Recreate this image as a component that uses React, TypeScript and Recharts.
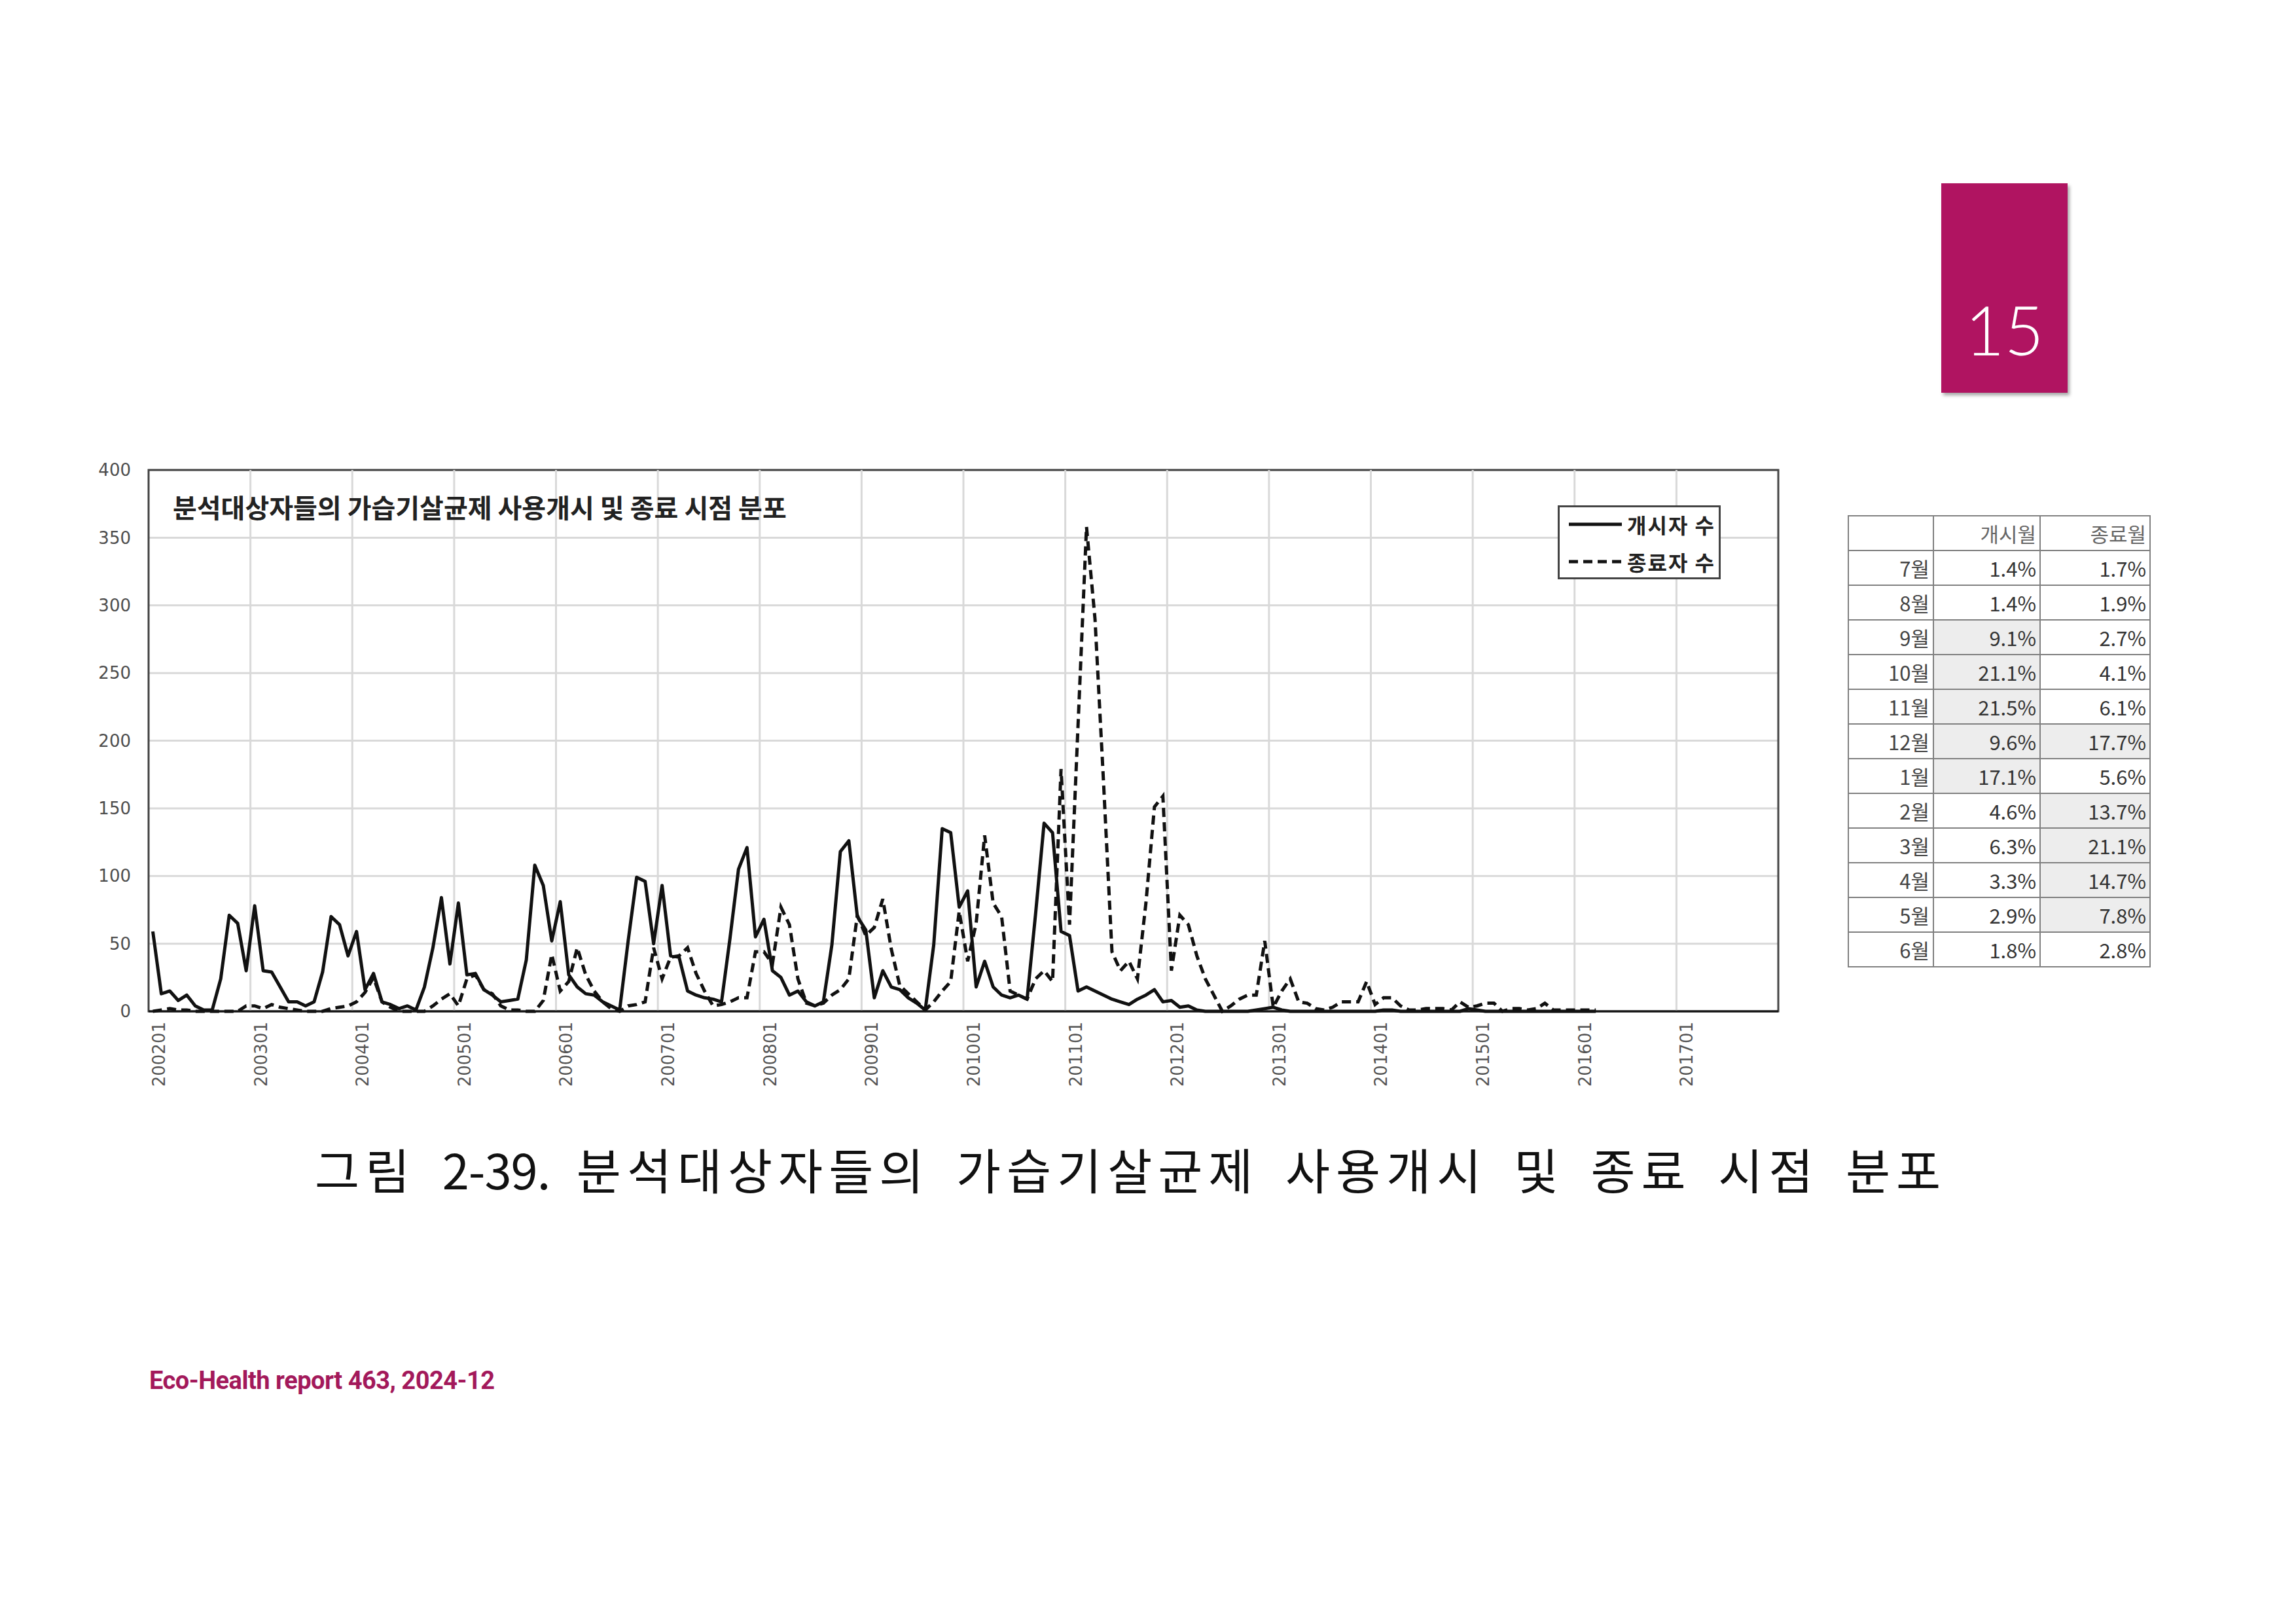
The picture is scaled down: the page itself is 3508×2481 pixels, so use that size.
import {
  LineChart,
  Line,
  XAxis,
  YAxis,
  CartesianGrid,
  ReferenceLine,
  ReferenceArea,
} from "recharts";

// monthly counts, 2002-01 .. 2016-03 (one row per year)
const startCounts = [
  59, 13, 15, 8, 12, 4, 1, 1, 24, 71, 65, 30,
  78, 30, 29, 18, 7, 7, 4, 7, 29, 70, 64, 41,
  59, 16, 28, 7, 5, 2, 4, 1, 18, 47, 84, 35,
  80, 27, 28, 16, 12, 7, 8, 9, 38, 108, 93, 52,
  81, 27, 18, 13, 12, 7, 4, 1, 52, 99, 96, 50,
  93, 41, 40, 15, 12, 10, 9, 7, 54, 105, 121, 55,
  68, 30, 25, 12, 15, 7, 4, 7, 49, 118, 126, 70,
  60, 10, 30, 18, 16, 10, 6, 1, 49, 135, 132, 77,
  89, 18, 37, 18, 12, 10, 12, 9, 72, 139, 132, 59,
  56, 15, 18, 15, 12, 9, 7, 5, 9, 12, 16, 7,
  8, 3, 4, 1, 0, 0, 0, 0, 0, 0, 1, 2,
  3, 1, 0, 0, 0, 0, 0, 0, 0, 0, 0, 0,
  0, 1, 1, 0, 0, 0, 0, 0, 0, 0, 0, 2,
  1, 0, 0, 0, 0, 0, 0, 0, 0, 0, 0, 0,
  0, 0, 0,
];

const endCounts = [
  0, 1, 2, 1, 1, 0, 0, 0, 0, 0, 0, 4,
  4, 2, 5, 3, 2, 1, 0, 0, 0, 2, 3, 4,
  7, 14, 25, 7, 3, 0, 0, 0, 0, 4, 9, 13,
  4, 24, 27, 16, 13, 4, 1, 1, 0, 0, 8, 42,
  15, 22, 47, 27, 15, 7, 2, 0, 4, 5, 7, 47,
  24, 40, 41, 47, 28, 15, 4, 5, 7, 10, 10, 44,
  44, 35, 77, 64, 24, 6, 4, 6, 12, 16, 24, 71,
  56, 62, 83, 46, 19, 13, 7, 1, 7, 15, 22, 74,
  37, 65, 130, 80, 70, 15, 12, 9, 24, 30, 22, 179,
  64, 211, 358, 290, 170, 44, 30, 37, 24, 80, 151, 159,
  30, 71, 64, 41, 24, 12, 0, 4, 9, 12, 12, 52,
  3, 15, 24, 7, 6, 2, 1, 3, 7, 7, 7, 22,
  5, 10, 10, 4, 1, 1, 2, 2, 2, 1, 7, 3,
  4, 6, 6, 0, 2, 2, 1, 2, 6, 1, 1, 1,
  1, 1, 1,
];

const yearLabels = [
  "200201", "200301", "200401", "200501", "200601", "200701", "200801", "200901",
  "201001", "201101", "201201", "201301", "201401", "201501", "201601", "201701",
];
const monthCount = 192; // 200201 .. 201712 on the axis
const yTicks = [0, 50, 100, 150, 200, 250, 300, 350, 400];
const seriesNames = ["개시자 수", "종료자 수"];
const chartTitle = "분석대상자들의 가습기살균제 사용개시 및 종료 시점 분포";
const figureNo = "2-39.";

const tableHeader = ["", "개시월", "종료월"];
const tableMonths = ["7월", "8월", "9월", "10월", "11월", "12월", "1월", "2월", "3월", "4월", "5월", "6월"];
const startShare = [1.4, 1.4, 9.1, 21.1, 21.5, 9.6, 17.1, 4.6, 6.3, 3.3, 2.9, 1.8];
const endShare = [1.7, 1.9, 2.7, 4.1, 6.1, 17.7, 5.6, 13.7, 21.1, 14.7, 7.8, 2.8];

const data = startCounts.map((v, i) => ({ m: i, start: v, end: endCounts[i] }));
const tickPos = yearLabels.map((_, k) => k * 12);
const DASH = "14 8";

function ShareTable() {
  const cell: React.CSSProperties = {
    border: "2px solid #808080",
    textAlign: "right",
    padding: "0 5px 0 0",
    height: 51,
  };
  const shade = (v: number) => (v >= 7 ? "#ededed" : "#ffffff");
  return (
    <table
      style={{
        position: "absolute",
        left: 2823,
        top: 787,
        width: 461,
        borderCollapse: "collapse",
        tableLayout: "fixed",
        fontFamily: "'Noto Sans CJK KR', sans-serif",
        fontSize: 31,
        color: "#333",
      }}
    >
      <colgroup>
        <col style={{ width: 130 }} />
        <col style={{ width: 163 }} />
        <col style={{ width: 168 }} />
      </colgroup>
      <tbody>
        <tr>
          {tableHeader.map((h, k) => (
            <td key={k} style={{ ...cell, color: "#666" }}>
              {h}
            </td>
          ))}
        </tr>
        {tableMonths.map((m, r) => (
          <tr key={m}>
            <td style={{ ...cell, color: "#444" }}>{m}</td>
            <td style={{ ...cell, background: shade(startShare[r]) }}>{startShare[r].toFixed(1)}%</td>
            <td style={{ ...cell, background: shade(endShare[r]) }}>{endShare[r].toFixed(1)}%</td>
          </tr>
        ))}
      </tbody>
    </table>
  );
}

function LegendBox() {
  return (
    <svg style={{ position: "absolute", left: 2380, top: 772 }} width={250} height={114}>
      <rect x={1.5} y={1.5} width={246} height={110} fill="#fff" stroke="#444" strokeWidth={3} />
      <line x1={17} x2={98} y1={29} y2={29} stroke="#111" strokeWidth={5} />
      <line x1={17} x2={98} y1={86} y2={86} stroke="#111" strokeWidth={5} strokeDasharray={DASH} />
      {seriesNames.map((n, k) => (
        <text
          key={n}
          x={106}
          y={k === 0 ? 29 : 86}
          dominantBaseline="central"
          fontFamily="'Noto Sans CJK KR', sans-serif"
          fontWeight={700}
          fontSize={32}
          letterSpacing={2}
          fill="#222"
        >
          {n}
        </text>
      ))}
    </svg>
  );
}

export default function App() {
  return (
    <div
      style={{
        position: "absolute",
        left: 0,
        top: 0,
        width: 3508,
        height: 2481,
        background: "#fff",
        overflow: "hidden",
      }}
    >
      {/* page number tab */}
      <div
        style={{
          position: "absolute",
          left: 2966,
          top: 280,
          width: 193,
          height: 320,
          background: "#b01461",
          boxShadow: "3px 4px 5px rgba(0,0,0,0.35)",
        }}
      >
        <div
          style={{
            position: "absolute",
            left: 0,
            top: 171,
            width: 193,
            textAlign: "center",
            color: "#fff",
            fontFamily: "Lato, sans-serif",
            fontWeight: 300,
            fontSize: 104,
            lineHeight: "104px",
          }}
        >
          15
        </div>
      </div>

      <div style={{ position: "absolute", left: 100, top: 640 }}>
        <LineChart
          width={2680}
          height={1060}
          data={data}
          margin={{ top: 78, right: 63, left: 27, bottom: 25 }}
        >
          <CartesianGrid vertical={false} stroke="#d9d9d9" strokeWidth={3} />
          {tickPos.slice(1).map((t) => (
            <ReferenceLine key={t} x={t - 0.5} stroke="#d9d9d9" strokeWidth={3} />
          ))}
          <ReferenceArea
            x1={-0.5}
            x2={monthCount - 0.5}
            y1={0}
            y2={400}
            fill="none"
            fillOpacity={0}
            stroke="#444"
            strokeWidth={3}
          />
          <XAxis
            dataKey="m"
            type="number"
            domain={[-0.5, monthCount - 0.5]}
            ticks={tickPos}
            interval={0}
            tickFormatter={(v: number) => yearLabels[Math.round(v / 12)]}
            axisLine={{ stroke: "#111", strokeWidth: 3 }}
            tickLine={false}
            tickSize={0}
            tickMargin={16}
            height={130}
            tick={{
              angle: -90,
              textAnchor: "end",
              verticalAnchor: "middle",
              fontSize: 26,
              fill: "#555",
              fontFamily: "'DejaVu Sans', sans-serif",
            }}
          />
          <YAxis
            type="number"
            domain={[0, 400]}
            ticks={yTicks}
            interval={0}
            width={100}
            axisLine={false}
            tickLine={false}
            tickSize={0}
            tickMargin={27}
            tick={{ fontSize: 26, fill: "#4d4d4d", fontFamily: "'DejaVu Sans', sans-serif" }}
          />
          <Line
            type="linear"
            dataKey="start"
            name={seriesNames[0]}
            stroke="#111"
            strokeWidth={5}
            strokeLinejoin="round"
            dot={false}
            isAnimationActive={false}
          />
          <Line
            type="linear"
            dataKey="end"
            name={seriesNames[1]}
            stroke="#111"
            strokeWidth={5}
            strokeDasharray={DASH}
            dot={false}
            isAnimationActive={false}
          />
        </LineChart>
      </div>

      <div
        style={{
          position: "absolute",
          left: 264,
          top: 752,
          fontFamily: "'Noto Sans CJK KR', sans-serif",
          fontWeight: 700,
          fontSize: 40,
          lineHeight: "44px",
          color: "#222",
          whiteSpace: "nowrap",
        }}
      >
        {chartTitle}
      </div>

      <LegendBox />
      <ShareTable />

      <div
        style={{
          position: "absolute",
          left: 481,
          top: 1743,
          fontFamily: "'Noto Sans CJK KR', sans-serif",
          fontSize: 74,
          lineHeight: "84px",
          letterSpacing: 9,
          wordSpacing: 15,
          color: "#111",
          whiteSpace: "nowrap",
        }}
      >
        그림 <span style={{ letterSpacing: -1 }}>{figureNo}</span> {chartTitle}
      </div>

      <div
        style={{
          position: "absolute",
          left: 228,
          top: 2087,
          fontFamily: "Roboto, sans-serif",
          fontWeight: 700,
          fontSize: 38,
          letterSpacing: -0.5,
          color: "#a3195b",
          whiteSpace: "nowrap",
        }}
      >
        Eco-Health report 463, 2024-12
      </div>
    </div>
  );
}
